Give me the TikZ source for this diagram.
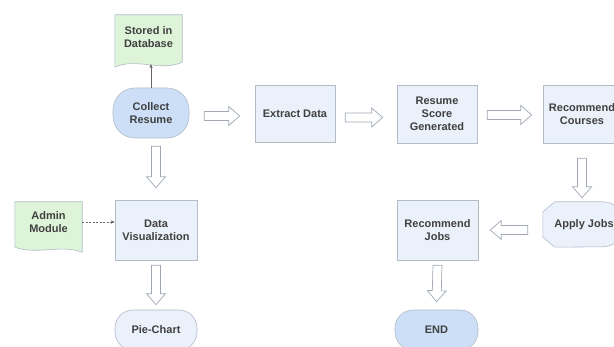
\documentclass[tikz,border=0pt]{standalone}
\usepackage{fontspec}
\setmainfont{Liberation Sans}
\usetikzlibrary{calc,arrows.meta,backgrounds}
\definecolor{bord}{HTML}{B3BBC7}
\definecolor{procfill}{HTML}{EBF1FB}
\definecolor{termfill}{HTML}{CCDFF7}
\definecolor{docfill}{HTML}{DDF4D9}
\definecolor{txt}{HTML}{404040}
\definecolor{arr}{HTML}{A0A8B4}
\begin{document}
\begin{tikzpicture}[x=1pt,y=-1pt,
 base/.style={font=\fontsize{11}{13}\selectfont\bfseries, text=txt, align=center, inner sep=0pt},
 proc/.style={base, draw=bord, fill=procfill, line width=0.6pt, minimum width=80pt, minimum height=58pt},
 term/.style={base, draw=bord, fill=termfill, line width=0.6pt, rounded corners=18pt, minimum width=80pt, minimum height=56pt},
 paleterm/.style={term, fill=procfill},
 shapeline/.style={draw=bord, line width=0.6pt},
 thinarr/.style={draw=txt!80, line width=0.5pt, -{Stealth[length=4pt,width=3.5pt]}},
 dasharr/.style={draw=txt!80, line width=0.5pt, dash pattern=on 2pt off 1.5pt, -{Stealth[length=4pt,width=3.5pt]}},
 hollow/.style={draw=arr, fill=white, line width=0.7pt, line join=miter,
  to path={let \p1=(\tikztostart), \p2=(\tikztotarget), \n1={atan2((\y2)-(\y1),(\x2)-(\x1))} in
   ($(\p1)+(\n1+90:4.5pt)$) -- ($(\p2)+(\n1+180:11pt)+(\n1+90:4.5pt)$) -- ($(\p2)+(\n1+180:11pt)+(\n1+90:9.5pt)$) -- (\p2)
   -- ($(\p2)+(\n1+180:11pt)+(\n1-90:9.5pt)$) -- ($(\p2)+(\n1+180:11pt)+(\n1-90:4.5pt)$) -- ($(\p1)+(\n1-90:4.5pt)$) -- cycle}}
]
\useasboundingbox (0,0) rectangle (614,347);

% nodes
\node[term, rounded corners=22pt, minimum width=76pt, minimum height=50pt] (cr) at (151,113) {Collect\\Resume};
\node[base, minimum width=67pt, minimum height=45pt] (st) at (148.5,37.5) {Stored in\\Database};
\node[proc, minimum height=57pt] (ed) at (295,113.5) {Extract Data};
\node[proc] (sc) at (437,114) {Resume\\Score\\Generated};
\node[proc, minimum width=78pt, minimum height=58pt] (co) at (582,114) {Recommend\\Courses};
\node[base, minimum width=82pt, minimum height=45pt] (ap) at (584,224.5) {Apply Jobs};
\node[proc, minimum width=81pt, minimum height=60pt] (rj) at (437.5,230) {Recommend\\Jobs};
\node[term, minimum width=83pt, minimum height=40pt] (en) at (436.5,330) {END};
\node[proc, minimum width=82pt, minimum height=60pt] (dv) at (156,230) {Data\\Visualization};
\node[base, minimum width=67pt, minimum height=40pt] (ad) at (48.5,222) {Admin\\Module};
\node[paleterm, minimum width=82pt, minimum height=40pt] (pc) at (156,330) {Pie-Chart};
\coordinate (stb) at ([yshift=-4pt]st.south);

% custom outlines behind the text
\begin{scope}[on background layer]
 \path[shapeline, fill=docfill] (st.north west) -- (st.north east) -- ([yshift=-2pt]st.south east)
   .. controls +(-22pt,-10pt) and +(22pt,10pt) .. ([yshift=-7pt]st.south west) -- cycle;
 \path[shapeline, fill=docfill] (ad.north west) -- (ad.north east) -- ([yshift=-10pt]ad.south east)
   .. controls +(-22pt,8pt) and +(22pt,-8pt) .. ([yshift=-5pt]ad.south west) -- cycle;
 \path[shapeline, fill=procfill] ([xshift=12pt]ap.north west) -- ([xshift=-22.5pt]ap.north east)
   arc[start angle=90, end angle=-90, radius=22.5pt] -- ([xshift=12pt]ap.south west)
   -- ([yshift=10pt]ap.south west) -- ([yshift=-10pt]ap.north west) -- cycle;
\end{scope}

% thin connectors
\draw[thinarr] (cr.north) -- (cr.north |- stb);
\draw[dasharr] (ad.east) -- (ad.east -| dv.west);

% hollow block arrows
\draw[hollow] ([xshift=15pt,yshift=-3pt]cr.east) to ([xshift=-15pt,yshift=-3pt]cr.east -| ed.west);
\draw[hollow] ([xshift=10pt,yshift=-4pt]ed.east) to ([xshift=-14pt,yshift=-4pt]ed.east -| sc.west);
\draw[hollow] ([xshift=10pt,yshift=-1pt]sc.east) to ([xshift=-11pt,yshift=-1pt]sc.east -| co.west);
\draw[hollow] ([yshift=-15pt]co.south) to ([yshift=4pt]co.south |- ap.north);
\draw[hollow] ([xshift=-15pt]ap.west |- rj.east) to ([xshift=12pt]rj.east);
\draw[hollow] ([yshift=-5pt]rj.south) to ([yshift=8pt]en.north);
\draw[hollow] ([yshift=-8pt]dv.north |- cr.south) to ([yshift=12pt]dv.north);
\draw[hollow] ([yshift=-5pt]dv.south) to ([yshift=5pt]pc.north);
\end{tikzpicture}
\end{document}
